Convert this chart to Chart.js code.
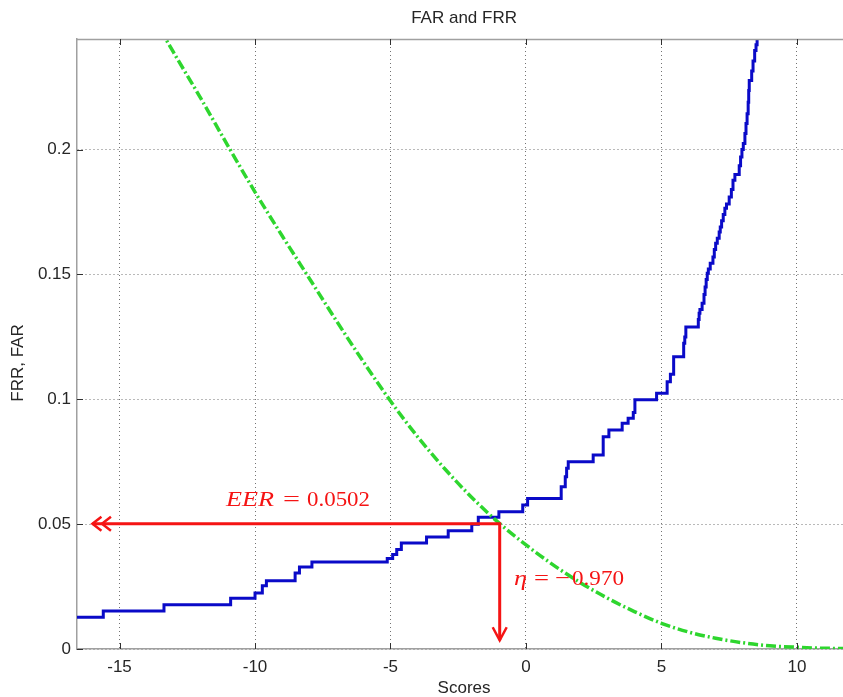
<!DOCTYPE html>
<html>
<head>
<meta charset="utf-8">
<title>FAR and FRR</title>
<script src="https://cdn.jsdelivr.net/npm/chart.js@4/dist/chart.umd.min.js"></script>
<style>
  html, body { margin: 0; padding: 0; background: #ffffff; }
  canvas { display: block; }
</style>
</head>
<body>
<canvas id="chart" width="843" height="697"></canvas>
<script>
// Axis ticks
const xTicks = [-15, -10, -5, 0, 5, 10];
const yTicks = [0, 0.05, 0.1, 0.15, 0.2];

// False acceptance rate (smooth, decreasing with the score)
const farScores = [-13.5, -13, -12, -11, -10, -9, -8, -7, -6, -5, -4, -3, -2, -1, 0,
                   1, 2, 3, 4, 5, 6, 7, 8, 9, 10, 11, 12];
const farValues = [0.2482, 0.2388, 0.2205, 0.2015, 0.1830, 0.1655, 0.1485, 0.1315, 0.1150,
                   0.0993, 0.0850, 0.0722, 0.0607, 0.0505, 0.0417, 0.0337, 0.0266, 0.0204,
                   0.0150, 0.0103, 0.0068, 0.0043, 0.0025, 0.0013, 0.0007, 0.0003, 0.0002];

// False rejection rate (empirical staircase: each value holds until the next score)
const frrScores = [-17.0, -15.6, -13.36, -10.9, -10.0, -9.73, -9.58, -8.52, -8.36, -7.9,
                   -5.12, -4.92, -4.77, -4.6, -3.67, -2.87, -2.0, -1.76, -1.0, -0.12,
                   0.06, 1.3, 1.45, 1.5, 1.56, 2.48, 2.85, 3.06, 3.55, 3.77,
                   3.96, 4.02, 4.82, 5.21, 5.33, 5.45, 5.82, 5.86, 5.9, 6.36,
                   6.39, 6.42, 6.5, 6.57, 6.61, 6.65, 6.69, 6.73, 6.8, 6.9,
                   6.95, 7.0, 7.06, 7.13, 7.17, 7.22, 7.28, 7.34, 7.4, 7.5,
                   7.58, 7.64, 7.71, 7.87, 7.92, 7.97, 8.02, 8.08, 8.12, 8.16,
                   8.2, 8.22, 8.24, 8.33, 8.38, 8.44, 8.49, 8.53, 8.57, 8.65];
const frrValues = [0.0100, 0.0127, 0.0152, 0.0177, 0.0203, 0.0224, 0.0253, 0.0273, 0.0304, 0.0328,
                   0.0348, 0.0362, 0.0378, 0.0398, 0.0425, 0.0449, 0.0474, 0.0500, 0.0528, 0.0550,
                   0.0577, 0.0603, 0.0650, 0.0690, 0.0724, 0.0750, 0.0777, 0.0850, 0.0877, 0.0904,
                   0.0924, 0.0947, 0.0998, 0.1024, 0.1070, 0.1100, 0.1170, 0.1225, 0.1250, 0.1290,
                   0.1320, 0.1345, 0.1360, 0.1385, 0.1420, 0.1450, 0.1480, 0.1505, 0.1522, 0.1545,
                   0.1570, 0.1600, 0.1625, 0.1645, 0.1670, 0.1690, 0.1715, 0.1740, 0.1765, 0.1782,
                   0.1810, 0.1840, 0.1877, 0.1900, 0.1935, 0.1970, 0.2000, 0.2024, 0.2065, 0.2105,
                   0.2144, 0.2190, 0.2237, 0.2277, 0.2315, 0.2355, 0.2397, 0.2420, 0.2445, 0.2500];

// Equal error rate and the threshold where it occurs
const EER = 0.0502;
const THRESHOLD = -0.970;

const X_MIN = -16.57, X_MAX = 11.7, X_AXIS_END = 12.0;
const Y_MIN = 0, Y_MAX = 0.2443;

const SANS = '"Liberation Sans", Arial, Helvetica, sans-serif';
const SERIF = '"Liberation Serif", "Times New Roman", serif';
const RED = '#f51414';
const FONT_SIZE = 17;

function toPoints(xs, ys) {
  return xs.map((v, i) => ({ x: v, y: ys[i] }));
}

// Draw a run of text stretched horizontally to a given width (math-style spacing)
function fitText(ctx, text, x, baseline, width, font) {
  ctx.save();
  ctx.font = font;
  const w = ctx.measureText(text).width;
  ctx.translate(x, baseline);
  ctx.scale(width / w, 1);
  ctx.fillText(text, 0, 0);
  ctx.restore();
}

// Frame, inward tick marks, titles and the EER annotation
const decorations = {
  id: 'decorations',
  afterDraw(chart) {
    const { ctx, chartArea: a, scales: { x, y } } = chart;
    const seg = (x1, y1, x2, y2) => { ctx.beginPath(); ctx.moveTo(x1, y1); ctx.lineTo(x2, y2); ctx.stroke(); };
    ctx.save();

    // top edge of the box
    ctx.strokeStyle = '#a0a0a0';
    ctx.lineWidth = 1.5;
    seg(a.left, a.top + 0.5, a.right, a.top + 0.5);

    // tick marks pointing into the plot
    ctx.strokeStyle = '#303030';
    ctx.lineWidth = 1;
    xTicks.forEach(v => {
      const px = Math.round(x.getPixelForValue(v)) + 0.5;
      seg(px, a.bottom, px, a.bottom - 6);
      seg(px, a.top, px, a.top + 6);
    });
    yTicks.forEach(v => {
      const py = Math.round(y.getPixelForValue(v)) + 0.5;
      seg(a.left, py, a.left + 6, py);
    });

    // title and axis labels, centred on the full axes box
    const cx = (x.getPixelForValue(X_MIN) + x.getPixelForValue(X_AXIS_END)) / 2;
    ctx.fillStyle = '#262626';
    ctx.font = FONT_SIZE + 'px ' + SANS;
    ctx.textAlign = 'center';
    ctx.textBaseline = 'middle';
    ctx.fillText('FAR and FRR', cx, 18);
    ctx.fillText('Scores', cx, 688);
    ctx.save();
    ctx.translate(18, 363);
    ctx.rotate(-Math.PI / 2);
    ctx.fillText('FRR, FAR', 0, 0);
    ctx.restore();

    // EER arrows
    const ex = x.getPixelForValue(THRESHOLD);
    const ey = y.getPixelForValue(EER);
    const leftTip = x.getPixelForValue(-16.0);
    const downTip = y.getPixelForValue(0.0035);
    ctx.strokeStyle = RED;
    ctx.lineWidth = 3;
    ctx.lineJoin = 'miter';
    ctx.beginPath();
    ctx.moveTo(leftTip, ey);
    ctx.lineTo(ex, ey);
    ctx.lineTo(ex, downTip);
    ctx.stroke();
    ctx.lineWidth = 2.5;
    [0, 9.5].forEach(d => {
      ctx.beginPath();
      ctx.moveTo(leftTip + d + 9, ey - 7);
      ctx.lineTo(leftTip + d, ey);
      ctx.lineTo(leftTip + d + 9, ey + 7);
      ctx.stroke();
    });
    ctx.beginPath();
    ctx.moveTo(ex - 7, downTip - 13);
    ctx.lineTo(ex, downTip);
    ctx.lineTo(ex + 7, downTip - 13);
    ctx.stroke();

    // annotation text
    ctx.fillStyle = RED;
    ctx.textAlign = 'left';
    ctx.textBaseline = 'alphabetic';
    const it = 'italic 22px ' + SERIF, up = '22px ' + SERIF;
    fitText(ctx, 'EER', 226, 506, 48, it);
    fitText(ctx, '=', 283, 506, 17, up);
    fitText(ctx, '0.0502', 307, 506, 63, up);
    fitText(ctx, '\u03B7', 514, 585, 13, it);
    fitText(ctx, '=', 534, 585, 15, up);
    fitText(ctx, '\u2212', 555, 585, 15, up);
    fitText(ctx, '0.970', 572, 585, 52, up);

    ctx.restore();
  }
};

new Chart(document.getElementById('chart'), {
  type: 'line',
  data: {
    datasets: [
      {
        label: 'FRR',
        data: toPoints(frrScores, frrValues),
        stepped: 'after',
        borderColor: '#0a0ac8',
        borderWidth: 3,
        pointRadius: 0,
        fill: false,
        order: 2
      },
      {
        label: 'FAR',
        data: toPoints(farScores, farValues),
        cubicInterpolationMode: 'monotone',
        borderColor: '#2ed62e',
        borderWidth: 3.5,
        borderDash: [10, 3, 2, 3],
        pointRadius: 0,
        fill: false,
        order: 1
      }
    ]
  },
  options: {
    responsive: false,
    animation: false,
    devicePixelRatio: 1,
    layout: { padding: { top: 39, right: 0, bottom: 0, left: 0 } },
    plugins: {
      legend: { display: false },
      title: { display: false },
      tooltip: { enabled: false }
    },
    scales: {
      x: {
        type: 'linear',
        min: X_MIN,
        max: X_MAX,
        afterBuildTicks: s => { s.ticks = xTicks.map(v => ({ value: v })); },
        afterFit: s => { s.height = 48; },
        grid: { color: 'rgba(90,90,90,0.85)', lineWidth: 1, drawTicks: false },
        border: { display: true, color: '#a0a0a0', width: 1.5, dash: [1, 3] },
        ticks: {
          padding: 8,
          color: '#262626',
          font: { family: SANS, size: FONT_SIZE },
          maxRotation: 0,
          callback: v => String(v)
        }
      },
      y: {
        type: 'linear',
        min: Y_MIN,
        max: Y_MAX,
        afterBuildTicks: s => { s.ticks = yTicks.map(v => ({ value: v })); },
        afterFit: s => { s.width = 77; },
        grid: { color: 'rgba(90,90,90,0.85)', lineWidth: 1, drawTicks: false },
        border: { display: true, color: '#a0a0a0', width: 1.5, dash: [1, 3] },
        ticks: {
          padding: 6,
          color: '#262626',
          font: { family: SANS, size: FONT_SIZE },
          callback: v => String(v)
        }
      }
    }
  },
  plugins: [decorations]
});
</script>
</body>
</html>
